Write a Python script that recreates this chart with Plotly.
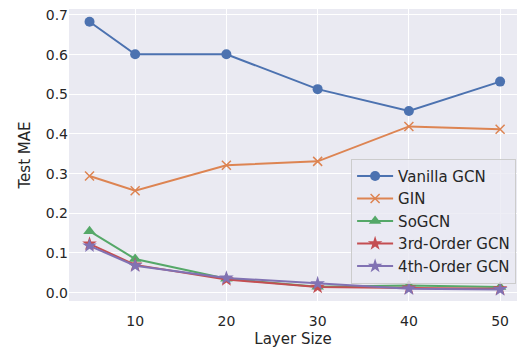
import plotly.graph_objects as go

layer_size = [5, 10, 20, 30, 40, 50]
vanilla_gcn = [0.683, 0.601, 0.601, 0.513, 0.458, 0.532]
gin = [0.294, 0.257, 0.321, 0.331, 0.419, 0.412]
sogcn = [0.155, 0.085, 0.035, 0.015, 0.018, 0.014]
gcn3 = [0.123, 0.070, 0.033, 0.014, 0.012, 0.010]
gcn4 = [0.118, 0.068, 0.037, 0.023, 0.010, 0.008]

series = [
    ("Vanilla GCN", vanilla_gcn, "#4C72B0", "circle", 10),
    ("GIN", gin, "#DD8452", "x-thin", 9),
    ("SoGCN", sogcn, "#55A868", "triangle-up", 11),
    ("3rd-Order GCN", gcn3, "#C44E52", "star", 11),
    ("4th-Order GCN", gcn4, "#8172B3", "star", 11),
]

fig = go.Figure()
for name, vals, color, sym, size in series:
    marker = dict(symbol=sym, size=size, color=color)
    if sym == "x-thin":
        marker["line"] = dict(color=color, width=1.5)
    fig.add_trace(go.Scatter(
        x=layer_size, y=vals, name=name, mode="lines+markers",
        line=dict(color=color, width=2), marker=marker,
    ))

fig.update_layout(
    width=517, height=349,
    margin=dict(l=69, r=0, t=9, b=48),
    paper_bgcolor="white", plot_bgcolor="#EAEAF2",
    font=dict(family="DejaVu Sans", size=14, color="#262626"),
    xaxis=dict(
        range=[2.75, 51.85], tickvals=[10, 20, 30, 40, 50],
        showgrid=True, gridcolor="white", gridwidth=1.3, zeroline=False,
        showline=False, ticks="outside", ticklen=7, tickcolor="white",
        title=dict(text="Layer Size", standoff=5, font=dict(size=15)),
    ),
    yaxis=dict(
        range=[-0.021, 0.715], tickvals=[0, 0.1, 0.2, 0.3, 0.4, 0.5, 0.6, 0.7],
        tickformat=".1f",
        showgrid=True, gridcolor="white", gridwidth=1.3, zeroline=False,
        showline=False, ticks="",
        title=dict(text="Test MAE", standoff=11, font=dict(size=15)),
    ),
    legend=dict(
        x=0.998, y=0.487, xanchor="right", yanchor="top",
        bgcolor="rgba(234,234,242,0.8)", bordercolor="#CCCCCC", borderwidth=1,
        font=dict(size=15), tracegroupgap=0, itemwidth=36,
    ),
)

fig.write_html(
    "out.html",
    config={"displayModeBar": False},
    post_script="document.body.style.margin='0';document.body.style.padding='0';",
)
